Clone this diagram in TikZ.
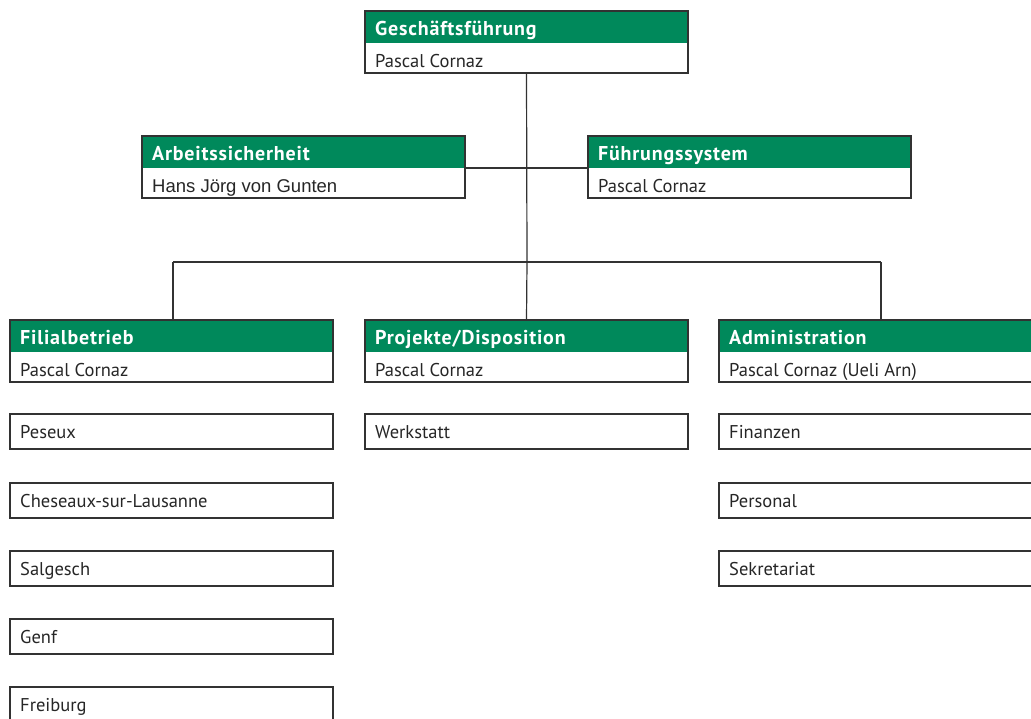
\documentclass[tikz,border=0pt]{standalone}
\usepackage{fontspec}
\setmainfont{PT Sans}
\newfontfamily\arialfont{Liberation Sans}
\newfontfamily\hdfont[LetterSpace=4.0]{PT Sans}
\definecolor{hdgreen}{RGB}{0,137,91}
\definecolor{frame}{RGB}{50,50,50}
\usetikzlibrary{calc}
\tikzset{
  every picture/.style={x=1pt,y=-1pt},
  conn/.style={draw=frame,line width=1.2pt},
  hdtext/.style={anchor=base west,text=white,font=\hdfont\fontsize{20}{22}\selectfont\bfseries,inner sep=0pt},
  nmtext/.style={anchor=base west,text=black!85,font=\fontsize{18.5}{22}\selectfont,inner sep=0pt},
  boxframe/.style={draw=frame,line width=1.2pt,fill=white},
}
% \orgbox{name}{x}{y}{title}{person}
\newcommand{\orgbox}[5]{%
  \fill[hdgreen] (#2,#3) rectangle ++(323,32);
  \draw[boxframe,fill=none] (#2,#3) rectangle ++(323,62);
  \coordinate (#1-n) at ($(#2,#3)+(161.5,0)$);
  \coordinate (#1-s) at ($(#2,#3)+(161.5,62)$);
  \coordinate (#1-w) at ($(#2,#3)+(0,32)$);
  \coordinate (#1-e) at ($(#2,#3)+(323,32)$);
  \node[hdtext] (#1-t) at ($(#2,#3)+(10,24)$) {#4};
  \node[nmtext] (#1-p) at ($(#2,#3)+(10,56)$) {#5};
}
\newcommand{\subbox}[4]{%
  \draw[boxframe] (#2,#3) rectangle ++(323,35);
  \node[nmtext] (#1) at ($(#2,#3)+(10,24)$) {#4};
}
\begin{document}
\begin{tikzpicture}
\useasboundingbox (0,0) rectangle (1031,718);
\begin{scope}
\clip (0,0) rectangle (1031,718);
\coordinate (bar) at (527,262);
\coordinate (barL) at (173,262);
\coordinate (barR) at (881,262);
\orgbox{gf}{365}{11}{Geschäftsführung}{Pascal Cornaz}
\orgbox{as}{142}{136}{Arbeitssicherheit}{\arialfont Hans Jörg von Gunten}
\orgbox{fs}{588}{136}{Führungssystem}{Pascal Cornaz}
\orgbox{fb}{10}{320}{Filialbetrieb}{Pascal Cornaz}
\orgbox{pd}{365}{320}{Projekte/Disposition}{Pascal Cornaz}
\orgbox{ad}{719}{320}{Administration}{Pascal Cornaz (Ueli Arn)}
\draw[conn] (gf-s) -- (bar);
\draw[conn] (as-e) -- (fs-w);
\draw[conn] (barL) -- (barR);
\draw[conn] (barL) -- (barL |- fb-n);
\draw[conn] (bar) -- (pd-n);
\draw[conn] (barR) -- (barR |- ad-n);
\subbox{peseux}{10}{414}{Peseux}
\subbox{chess}{10}{483}{Cheseaux-sur-Lausanne}
\subbox{salg}{10}{551}{Salgesch}
\subbox{genf}{10}{619}{Genf}
\subbox{freib}{10}{687}{Freiburg}
\subbox{werk}{365}{414}{Werkstatt}
\subbox{fin}{719}{414}{Finanzen}
\subbox{pers}{719}{483}{Personal}
\subbox{sekr}{719}{551}{Sekretariat}
\end{scope}
\end{tikzpicture}
\end{document}
